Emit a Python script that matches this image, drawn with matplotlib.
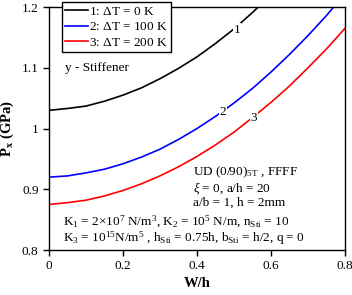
import matplotlib
matplotlib.use("Agg")
import matplotlib.pyplot as plt

plt.rcParams['font.family'] = ['Liberation Serif', 'DejaVu Serif']
plt.rcParams['mathtext.fontset'] = 'custom'
plt.rcParams['mathtext.rm'] = 'Liberation Serif'
plt.rcParams['mathtext.it'] = 'Liberation Serif:italic'
plt.rcParams['mathtext.bf'] = 'Liberation Serif:bold'

# W/h values and buckling loads (GPa)
wh = [0.0, 0.05, 0.1, 0.15, 0.2, 0.25, 0.3, 0.35, 0.4, 0.45, 0.5, 0.55, 0.6,
      0.65, 0.7, 0.75, 0.8]
p_dt0 = [1.030, 1.033, 1.037, 1.045, 1.055, 1.067, 1.082, 1.099, 1.118, 1.140,
         1.164, 1.191, 1.220, 1.252, 1.285, 1.321, 1.360]
p_dt100 = [0.920, 0.922, 0.927, 0.933, 0.942, 0.953, 0.966, 0.982, 1.000, 1.020,
           1.042, 1.066, 1.093, 1.122, 1.153, 1.186, 1.222]
p_dt200 = [0.875, 0.878, 0.882, 0.889, 0.898, 0.909, 0.922, 0.937, 0.954, 0.973,
           0.994, 1.018, 1.043, 1.070, 1.100, 1.131, 1.165]

series = [
    (p_dt0, 'black', r'1: $\Delta$T = 0 K', '1', 0.508, 1.163),
    (p_dt100, 'blue', r'2: $\Delta$T = 100 K', '2', 0.470, 1.028),
    (p_dt200, 'red', r'3: $\Delta$T = 200 K', '3', 0.554, 1.017),
]

fs = 9.5

fig = plt.figure(figsize=(3.52, 2.95), dpi=100)
ax = fig.add_axes([0.139, 0.1525, 0.841, 0.8235])

for vals, col, lab, num, lx, ly in series:
    ax.plot(wh, vals, color=col, lw=1.2, label=lab)
    ax.text(lx, ly, num, fontsize=fs, ha='center', va='center',
            bbox=dict(facecolor='white', edgecolor='none', pad=0.6), zorder=5)

ax.set_xlim(0, 0.8)
ax.set_ylim(0.8, 1.2)
ax.set_xticks([0, 0.2, 0.4, 0.6, 0.8])
ax.set_xticklabels(['0', '0.2', '0.4', '0.6', '0.8'])
ax.set_yticks([0.8, 0.9, 1.0, 1.1, 1.2])
ax.set_yticklabels(['0.8', '0.9', '1', '1.1', '1.2'])
ax.tick_params(direction='out', length=4, width=1, labelsize=fs, top=False, right=False)
for s in ax.spines.values():
    s.set_linewidth(1)

ax.set_xlabel('W/h', fontsize=10.5, fontweight='bold', labelpad=3)
ax.set_ylabel(r'P$_{\mathbf{x}}$ (GPa)', fontsize=10.5, fontweight='bold', labelpad=4)

leg = ax.legend(loc='upper left', bbox_to_anchor=(0.044, 1.02), fontsize=fs,
                frameon=True, fancybox=False, framealpha=1, edgecolor='black',
                handlelength=1.7, handletextpad=0.1, labelspacing=0.25,
                borderpad=0.25, borderaxespad=0)
leg.get_frame().set_linewidth(1)
leg.set_zorder(10)

ax.text(0.054, 0.749, 'y - Stiffener', transform=ax.transAxes, fontsize=fs, va='center')
ax.text(0.486, 0.321, r'UD (0/90)$_{\rm 5T}$ , FFFF', transform=ax.transAxes, fontsize=fs, va='center')
ax.text(0.486, 0.255, r'$\xi$ = 0, a/h = 20', transform=ax.transAxes, fontsize=fs, va='center')
ax.text(0.486, 0.193, 'a/b = 1, h = 2mm', transform=ax.transAxes, fontsize=fs, va='center')
ax.text(0.047, 0.115, r'K$_1$ = 2$\times$10$^7$ N/m$^3$, K$_2$ = 10$^5$ N/m, n$_{\rm Sti}$ = 10',
        transform=ax.transAxes, fontsize=fs, va='center')
ax.text(0.047, 0.049, r'K$_3$ = 10$^{15}$N/m$^5$ , h$_{\rm Sti}$ = 0.75h, b$_{\rm Sti}$ = h/2, q = 0',
        transform=ax.transAxes, fontsize=fs, va='center')

fig.savefig('out.png', dpi=100)
